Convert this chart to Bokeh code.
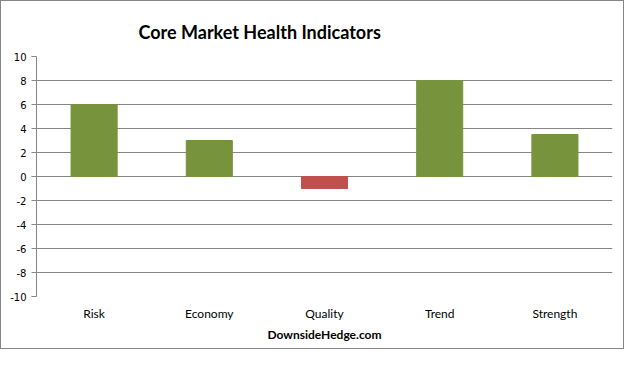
from bokeh.plotting import figure
from bokeh.models import Range1d, FactorRange, FixedTicker, ColumnDataSource, Title, PrintfTickFormatter
from bokeh.embed import file_html
from bokeh.resources import INLINE

categories = ["Risk", "Economy", "Quality", "Trend", "Strength"]
values = [6, 3, -1, 8, 3.5]
y_ticks = [-10, -8, -6, -4, -2, 0, 2, 4, 6, 8, 10]

GREEN = "#77933C"
RED = "#C0504D"
GRID = "#868686"

colors = [GREEN if v >= 0 else RED for v in values]
src = ColumnDataSource(dict(cat=categories, val=values, color=colors))

p = figure(x_range=FactorRange(*categories), y_range=Range1d(-10, 10),
           frame_width=576, frame_height=240,
           min_border_left=35, min_border_right=11, min_border_top=55, min_border_bottom=52,
           output_backend="svg", toolbar_location=None, tools="")
p.styles = {"border": "1px solid #868686"}
p.outline_line_color = None
p.background_fill_color = "white"
p.border_fill_color = "white"

p.vbar(x="cat", top="val", bottom=0, width=0.4, color="color", source=src)

p.add_layout(Title(text="Core Market Health Indicators", text_font="Lato", text_font_size="18px",
                   text_font_style="bold", text_color="black", align="left", offset=102,
                   standoff=28), "above")

p.yaxis.ticker = FixedTicker(ticks=y_ticks)
p.yaxis.formatter = PrintfTickFormatter(format="%d")
p.yaxis.axis_line_color = GRID
p.yaxis.major_tick_line_color = GRID
p.yaxis.major_tick_out = 5
p.yaxis.major_tick_in = 0
p.yaxis.minor_tick_line_color = None
p.yaxis.major_label_text_font = "DejaVu Sans"
p.yaxis.major_label_text_font_size = "10px"
p.yaxis.major_label_text_color = "black"
p.yaxis.major_label_standoff = 5

p.ygrid.ticker = FixedTicker(ticks=y_ticks)
p.ygrid.grid_line_color = GRID
p.xgrid.grid_line_color = None

p.xaxis.axis_line_color = None
p.xaxis.major_tick_line_color = None
p.xaxis.minor_tick_line_color = None
p.xaxis.major_label_text_font = "Lato"
p.xaxis.major_label_text_font_size = "12px"
p.xaxis.major_label_text_color = "black"
p.xaxis.major_label_standoff = 3
p.xaxis.axis_label = "DownsideHedge.com"
p.xaxis.axis_label_text_font = "Lato"
p.xaxis.axis_label_text_font_size = "12px"
p.xaxis.axis_label_text_font_style = "bold"
p.xaxis.axis_label_text_color = "black"
p.xaxis.axis_label_standoff = 3

open("out.html", "w").write(file_html(p, INLINE))
